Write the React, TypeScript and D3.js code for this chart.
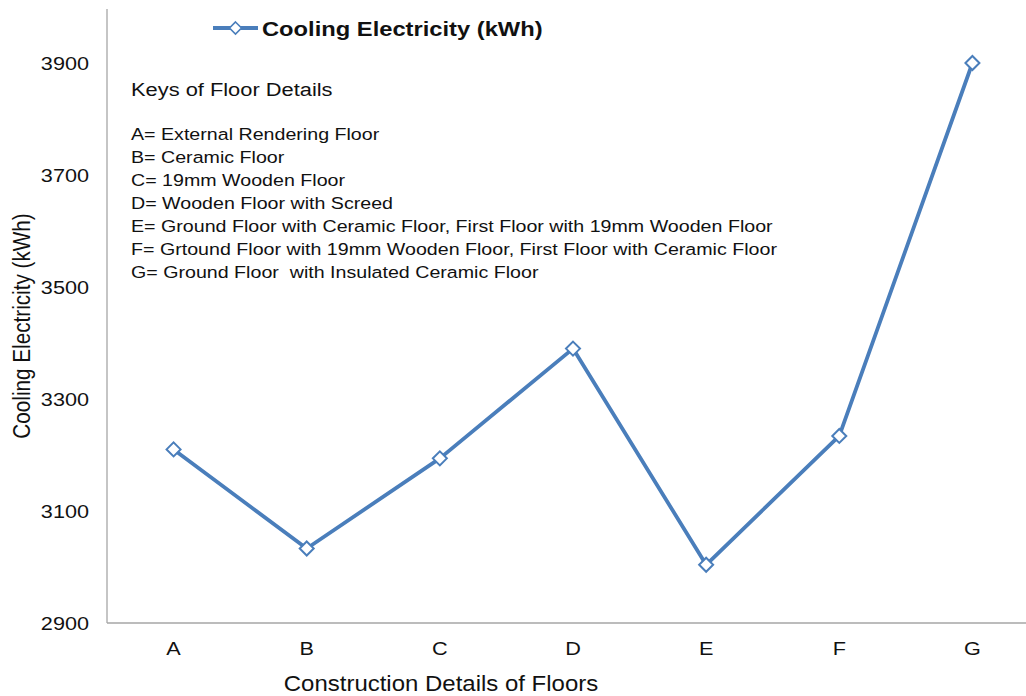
import React from "react";
import * as d3 from "d3";

const categories = ["A", "B", "C", "D", "E", "F", "G"];
const coolingValues = [3210, 3033, 3194, 3390, 3004, 3234, 3900];
const yTicks = [2900, 3100, 3300, 3500, 3700, 3900];
const seriesName = "Cooling Electricity (kWh)";
const keyTitle = "Keys of Floor Details";
const keyLines = [
  "A= External Rendering Floor",
  "B= Ceramic Floor",
  "C= 19mm Wooden Floor",
  "D= Wooden Floor with Screed",
  "E= Ground Floor with Ceramic Floor, First Floor with 19mm Wooden Floor",
  "F= Grtound Floor with 19mm Wooden Floor, First Floor with Ceramic Floor",
  "G= Ground Floor  with Insulated Ceramic Floor",
];

const W = 1026;
const H = 696;
const left = 107;
const right = 1039;
const top = 9;
const bottom = 623;
const color = "#4A7EBB";
const font = "'Liberation Sans', Arial, sans-serif";

function SText(props: {
  x: number;
  y: number;
  sx: number;
  size: number;
  anchor?: string;
  bold?: boolean;
  children: React.ReactNode;
}) {
  return (
    <text
      transform={`translate(${props.x},${props.y}) scale(${props.sx},1)`}
      dy="0.36em"
      textAnchor={props.anchor || "start"}
      fontSize={props.size}
      fontWeight={props.bold ? "bold" : "normal"}
      fill="#111"
      style={{ whiteSpace: "pre" }}
    >
      {props.children}
    </text>
  );
}

export default function App() {
  const x = d3.scaleBand<string>().domain(categories).range([left, right]);
  const y = d3.scaleLinear().domain([2900, 3900]).range([bottom, 63]);
  const cx = (i: number) => (x(categories[i]) as number) + x.bandwidth() / 2;
  const line = d3
    .line<number>()
    .x((_, i) => cx(i))
    .y((d) => y(d));
  const diamond = (px: number, py: number, r: number) =>
    `M${px},${py - r}L${px + r},${py}L${px},${py + r}L${px - r},${py}Z`;

  return (
    <svg
      width={W}
      height={H}
      style={{ position: "absolute", left: 0, top: 0, background: "#fff" }}
      fontFamily={font}
    >
      <rect x={0} y={0} width={W} height={H} fill="#fff" />
      <line x1={left} x2={left} y1={top} y2={bottom} stroke="#A6A6A6" strokeWidth={1.3} />
      <line x1={left} x2={W} y1={bottom} y2={bottom} stroke="#A6A6A6" strokeWidth={1.3} />
      {yTicks.map((t) => (
        <SText key={t} x={89} y={y(t)} sx={1.14} size={19} anchor="end">
          {t}
        </SText>
      ))}
      {categories.map((c, i) => (
        <SText key={c} x={cx(i)} y={648} sx={1.14} size={19} anchor="middle">
          {c}
        </SText>
      ))}
      <SText x={441} y={683} sx={1.09} size={22} anchor="middle">
        Construction Details of Floors
      </SText>
      <text
        transform={`translate(22,326) rotate(-90) scale(1,1.12)`}
        textAnchor="middle"
        dy="0.36em"
        fontSize={20.7}
        fill="#111"
      >
        Cooling Electricity (kWh)
      </text>
      <SText x={131} y={89} sx={1.15} size={19}>
        {keyTitle}
      </SText>
      {keyLines.map((k, i) => (
        <SText key={i} x={131} y={134 + i * 22.9} sx={1.155} size={17}>
          {k}
        </SText>
      ))}
      <path d={line(coolingValues) || ""} fill="none" stroke={color} strokeWidth={3.8} strokeLinejoin="round" />
      {coolingValues.map((v, i) => (
        <path key={i} d={diamond(cx(i), y(v), 7)} fill="#fff" stroke={color} strokeWidth={2} />
      ))}
      <line x1={213} x2={258} y1={28} y2={28} stroke={color} strokeWidth={3.8} />
      <path d={diamond(235.5, 28, 6)} fill="#fff" stroke={color} strokeWidth={1.6} />
      <SText x={262} y={28} sx={1.13} size={21} bold>
        {seriesName}
      </SText>
    </svg>
  );
}
